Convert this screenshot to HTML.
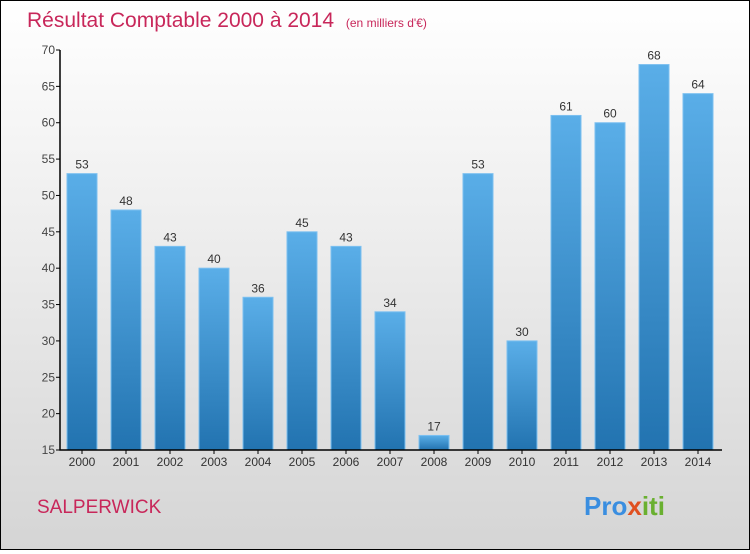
<!DOCTYPE html>
<html><head><meta charset="utf-8"><style>
body{margin:0}
#c{width:748px;height:548px;border:1px solid #000;background:linear-gradient(#fff,#d5d5d5);position:relative;font-family:"Liberation Sans",sans-serif}
</style></head><body>
<div id="c">
<svg id="s" width="748" height="548">
<defs><linearGradient id="g" x1="0" y1="0" x2="0" y2="1"><stop offset="0" stop-color="#5aaee8"/><stop offset="1" stop-color="#2273b0"/></linearGradient></defs>
<text x="26" y="26" font-size="21" fill="#c8275a">Résultat Comptable 2000 à 2014 <tspan font-size="12" dx="6">(en milliers d'€)</tspan></text>
<text x="36" y="512" font-size="19" fill="#c8275a">SALPERWICK</text>
<text x="583" y="514" font-size="26" font-weight="bold" fill="#3a8ee0">Pro<tspan fill="#e05020">x</tspan><tspan fill="#6ab030">iti</tspan></text>
</svg></div>
<script>
const years=["2000","2001","2002","2003","2004","2005","2006","2007","2008","2009","2010","2011","2012","2013","2014"];
const values=[53,48,43,40,36,45,43,34,17,53,30,61,60,68,64];
const yTicks=[15,20,25,30,35,40,45,50,55,60,65,70];
const s=document.getElementById('s');const NS='http://www.w3.org/2000/svg';
const X0=59,Y0=449,ymin=15,ymax=70;
const y=v=>Y0-(v-ymin)*400/(ymax-ymin);
const x=i=>X0+22+i*44;
function el(t,a){const e=document.createElementNS(NS,t);for(const k in a)e.setAttribute(k,a[k]);s.appendChild(e);return e;}
yTicks.forEach(t=>{const l=el('line',{x1:X0-4,x2:X0,y1:y(t),y2:y(t),stroke:'#000'});


const tx=el('text',{x:X0-5,y:y(t)+4,'text-anchor':'end','font-size':12,fill:'#444'});tx.textContent=t;

});
values.forEach((v,i)=>{const r=el('rect',{x:x(i)-15,y:y(v),width:30,height:Y0-y(v),fill:'url(#g)',stroke:'#7cc0f0','stroke-width':1});


const t=el('text',{x:x(i),y:y(v)-5,'text-anchor':'middle','font-size':12,fill:'#333'});t.textContent=v;


const k=el('line',{x1:x(i),x2:x(i),y1:Y0,y2:Y0+4,stroke:'#000'});


const l=el('text',{x:x(i),y:Y0+16,'text-anchor':'middle','font-size':12,fill:'#333'});l.textContent=years[i];

});
const ax=el('path',{d:`M${X0} ${y(70)}V${Y0}H${X0+662}`,stroke:'#000',fill:'none','stroke-width':1.5});


</script></body></html>
